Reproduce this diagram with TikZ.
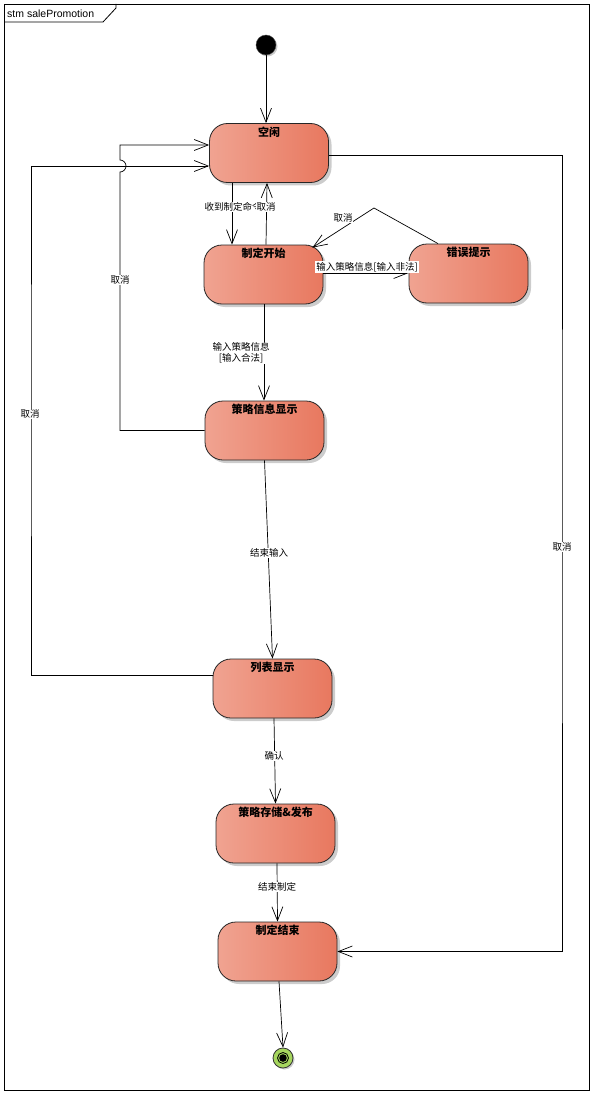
\documentclass[tikz,border=0pt]{standalone}
\usepackage{fontspec}
\setmainfont{Liberation Sans}
\newfontfamily\cjk{Noto Sans CJK SC}
\usetikzlibrary{arrows.meta,shadows,calc}
\definecolor{salL}{RGB}{240,163,145}
\definecolor{salR}{RGB}{232,120,95}
\definecolor{finG}{RGB}{166,214,94}
\begin{document}
\begin{tikzpicture}[x=1pt,y=-1pt,
  state/.style={rectangle, rounded corners=18pt, minimum width=119pt, minimum height=59pt,
    draw=black!85, line width=0.8pt, left color=salL, right color=salR,
    drop shadow={shadow xshift=3pt, shadow yshift=-3pt, fill=black!40, opacity=0.5}, inner sep=0pt},
  ttl/.style={anchor=north, font=\cjk\bfseries\fontsize{11}{13}\selectfont, inner sep=0pt, yshift=-3.5pt},
  trans/.style={draw=black, line width=0.7pt, -{Straight Barb[length=14pt,width=11pt,line width=0.7pt]}},
  lbl/.style={font=\cjk\fontsize{9.5}{11}\selectfont, fill=white, inner sep=0.8pt, align=center}
]
\useasboundingbox (0,0) rectangle (593,1094);
% frame
\draw[line width=0.8pt] (4,4) rectangle (589,1090);
\draw[line width=0.8pt] (4,22) -- (103,22) -- (116,8) -- (116,4);
\node[anchor=west, font=\fontsize{10.5}{12}\selectfont, inner sep=0pt] (frm) at (7,13.5) {stm salePromotion};

% states
\node[circle, fill=black, draw=black!70, minimum size=20pt, inner sep=0pt,
  drop shadow={shadow xshift=1.5pt, shadow yshift=-1.5pt, fill=black!40, opacity=0.5}] (init) at (266,45) {};
\node[state, label={[ttl]north:空闲}] (s0) at (269,153) {};
\node[state, label={[ttl]north:制定开始}] (s1) at (263.5,274.5) {};
\node[state, label={[ttl]north:错误提示}] (s2) at (468.5,273.5) {};
\node[state, label={[ttl]north:策略信息显示}] (s3) at (264.5,430.5) {};
\node[state, label={[ttl]north:列表显示}] (s4) at (272.5,688.5) {};
\node[state, label={[ttl]north:策略存储\&发布}] (s5) at (275.5,833.5) {};
\node[state, label={[ttl]north:制定结束}] (s6) at (277.5,951.5) {};
\node[circle, fill=finG, draw=black!80, line width=0.8pt, minimum size=20pt, inner sep=0pt,
  drop shadow={shadow xshift=1.5pt, shadow yshift=-1.5pt, fill=black!40, opacity=0.5}] (fin) at (283,1058) {};
\draw[black, line width=0.8pt] (fin.center) circle[radius=5.5pt];
\fill[black] (fin.center) circle[radius=3.8pt];

% helper coordinates
\coordinate (pk) at (374,208);
\coordinate (jmp) at (120,172);
\coordinate (lx) at (31,400);
\coordinate (rx) at (562,500);

% transitions
\draw[trans] (init.south) -- (init.south |- s0.north);
\draw[trans] ([xshift=-37pt]s0.south) -- ([xshift=-37pt]s0.south |- s1.north);
\draw[trans] ([xshift=2.5pt]s1.north) -- ([xshift=-2pt]s0.south);
\draw[trans] ([yshift=1.5pt]s1.east) -- ([yshift=1.5pt]s1.east -| s2.west);
\draw[trans] ([xshift=-30.5pt]s2.north) -- (pk) -- ([xshift=-11pt,yshift=-3pt]s1.north east);
\draw[trans] ([xshift=0.5pt]s1.south) -- ([xshift=0.5pt]s1.south |- s3.north);
\draw[trans] (s3.west) -| (jmp) arc[start angle=-90,end angle=90,radius=6pt] |- ([yshift=8pt]s0.west);
\draw[trans] ([yshift=13.5pt]s4.west) -| (lx) |- ([yshift=-13pt]s0.west);
\draw[trans] (s3.south) -- (s4.north);
\draw[trans] ([xshift=1.5pt]s4.south) -- (s5.north);
\draw[trans] ([xshift=1.5pt]s5.south) -- (s6.north);
\draw[trans] ([yshift=-2pt]s0.east) -| (rx) |- (s6.east);
\draw[trans] ([xshift=1.5pt]s6.south) -- (fin.north);

% labels
\node[lbl] (l1) at (233,207) {收到制定命令};
\node[lbl] (l2) at (266,207) {取消};
\node[lbl] (l3) at (367,267) {输入策略信息[输入非法]};
\node[lbl] (l4) at (343,218) {取消};
\node[lbl] (l5) at (241,353) {输入策略信息\\{[}输入合法]};
\node[lbl] (l6) at (120,280) {取消};
\node[lbl] (l7) at (30,414) {取消};
\node[lbl] (l8) at (269,553) {结束输入};
\node[lbl] (l9) at (274,756) {确认};
\node[lbl] (l10) at (277,887) {结束制定};
\node[lbl] (l11) at (562,547) {取消};
\end{tikzpicture}
\end{document}
